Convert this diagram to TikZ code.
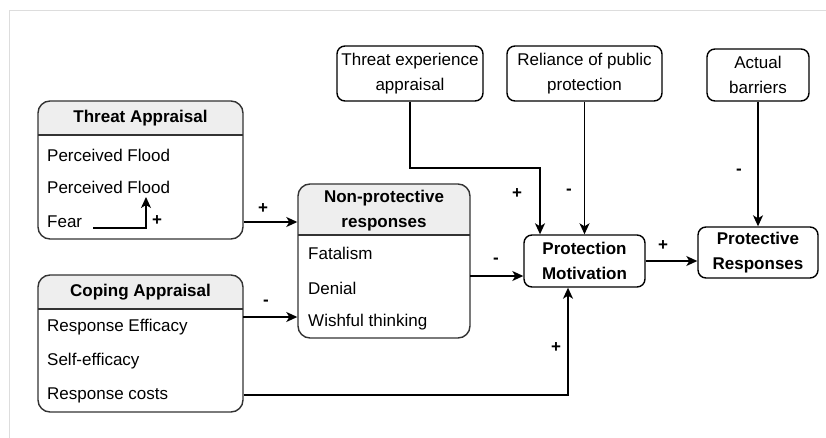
\documentclass[tikz,border=0pt]{standalone}
\usepackage{fontspec}
\setmainfont{Liberation Sans}
\usetikzlibrary{arrows.meta}
\definecolor{boxline}{HTML}{333333}
\definecolor{headfill}{HTML}{EEEEEE}
\definecolor{frameline}{HTML}{DDDDDD}

\begin{document}
\begin{tikzpicture}[x=1pt,y=-1pt,
  txt/.style={font=\fontsize{17}{25.5}\selectfont},
  btxt/.style={font=\fontsize{17}{25.5}\selectfont\bfseries},
  card/.style={draw=boxline, line width=1.4pt, rounded corners=12pt, inner sep=0pt},
  smallcard/.style={draw=black, line width=1.4pt, rounded corners=8pt, inner sep=0pt, align=center},
  item/.style={txt, anchor=west, inner sep=0pt},
  head/.style={btxt, align=center, inner sep=0pt},
  sign/.style={font=\fontsize{17}{20}\selectfont\bfseries, inner sep=0pt},
  arr/.style={-{Stealth[length=11pt,width=10pt,inset=3pt]}, line width=1.4pt},
  divider/.style={draw=boxline, line width=1.4pt}
]
% page frame
\useasboundingbox (0,0) rectangle (826,438);
\draw[frameline, line width=1pt] (9,438) -- (9,11) -- (826,11);

% header bands of the three list boxes
\begin{scope}
  \clip (38,101) rectangle (243,135);
  \fill[headfill, rounded corners=12pt] (38,101) rectangle (243,239);
\end{scope}
\begin{scope}
  \clip (38,275) rectangle (243,309);
  \fill[headfill, rounded corners=12pt] (38,275) rectangle (243,412);
\end{scope}
\begin{scope}
  \clip (298,184) rectangle (470,235);
  \fill[headfill, rounded corners=12pt] (298,184) rectangle (470,338);
\end{scope}

% list boxes
\node[card, minimum width=205pt, minimum height=138pt] (threat) at (140.5,170) {};
\node[card, minimum width=205pt, minimum height=137pt] (coping) at (140.5,343.5) {};
\node[card, minimum width=172pt, minimum height=154pt] (nonprot) at (384,261) {};
\draw[divider] (38,135) -- (243,135);
\draw[divider] (38,309) -- (243,309);
\draw[divider] (298,235) -- (470,235);

% headers
\node[head] (threathead) at (140.5,118) {Threat Appraisal};
\node[head] (copinghead) at (140.5,292) {Coping Appraisal};
\node[head] (nonprothead) at (384,210.5) {Non-protective\\responses};

% list items
\node[item] (ta1) at (47,155) {Perceived Flood};
\node[item] (ta2) at (47,187) {Perceived Flood};
\node[item] (ta3) at (47,222) {Fear};
\node[item] (ca1) at (47,327) {Response Efficacy};
\node[item] (ca2) at (47,361) {Self-efficacy};
\node[item] (ca3) at (47,395) {Response costs};
\node[item] (np1) at (308,253) {Fatalism};
\node[item] (np2) at (308,288) {Denial};
\node[item] (np3) at (308,322) {Wishful thinking};

% single boxes
\node[smallcard, btxt, minimum width=121pt, minimum height=52pt] (pm) at (584.5,261) {Protection\\Motivation};
\node[smallcard, btxt, minimum width=120pt, minimum height=51pt] (pr) at (758,252.5) {Protective\\Responses};
\node[smallcard, txt, minimum width=146pt, minimum height=55pt] (tea) at (410,73.5) {Threat experience\\appraisal};
\node[smallcard, txt, minimum width=155pt, minimum height=55pt] (rel) at (584.5,73.5) {Reliance of public\\protection};
\node[smallcard, txt, minimum width=102pt, minimum height=52pt] (ab) at (758,75) {Actual\\barriers};

% helper points
\coordinate (fearstart) at (93,228);
\coordinate (fearend) at (146,197);
\coordinate (copingout) at (243,317);
\coordinate (npout) at (470,276);
\coordinate (teabend) at (540,168);
\coordinate (costbend) at (568,395);

% connectors
\draw[arr] (fearstart) -| (fearend);
\draw[arr] (threat.east |- ta3) -- (nonprot.west |- ta3);
\draw[arr] (copingout) -- (nonprot.west |- copingout);
\draw[arr] (npout) -- (pm.west |- npout);
\draw[arr] (tea.south) |- (teabend) -- (teabend |- pm.north);
\draw[arr] (rel.south) -- (pm.north);
\draw[arr] (ab.south) -- (pr.north);
\draw[arr] (pm.east) -- (pm.east -| pr.west);
\draw[arr] (coping.east |- ca3) -| (pm.south -| costbend);

% signs
\node[sign] (s1) at (157,221) {+};
\node[sign] (s2) at (263,209) {+};
\node[sign] (s3) at (266,303) {-};
\node[sign] (s4) at (496,261) {-};
\node[sign] (s5) at (517,194) {+};
\node[sign] (s6) at (569,192) {-};
\node[sign] (s7) at (663,246) {+};
\node[sign] (s8) at (739,172) {-};
\node[sign] (s9) at (556,348) {+};
\end{tikzpicture}
\end{document}
